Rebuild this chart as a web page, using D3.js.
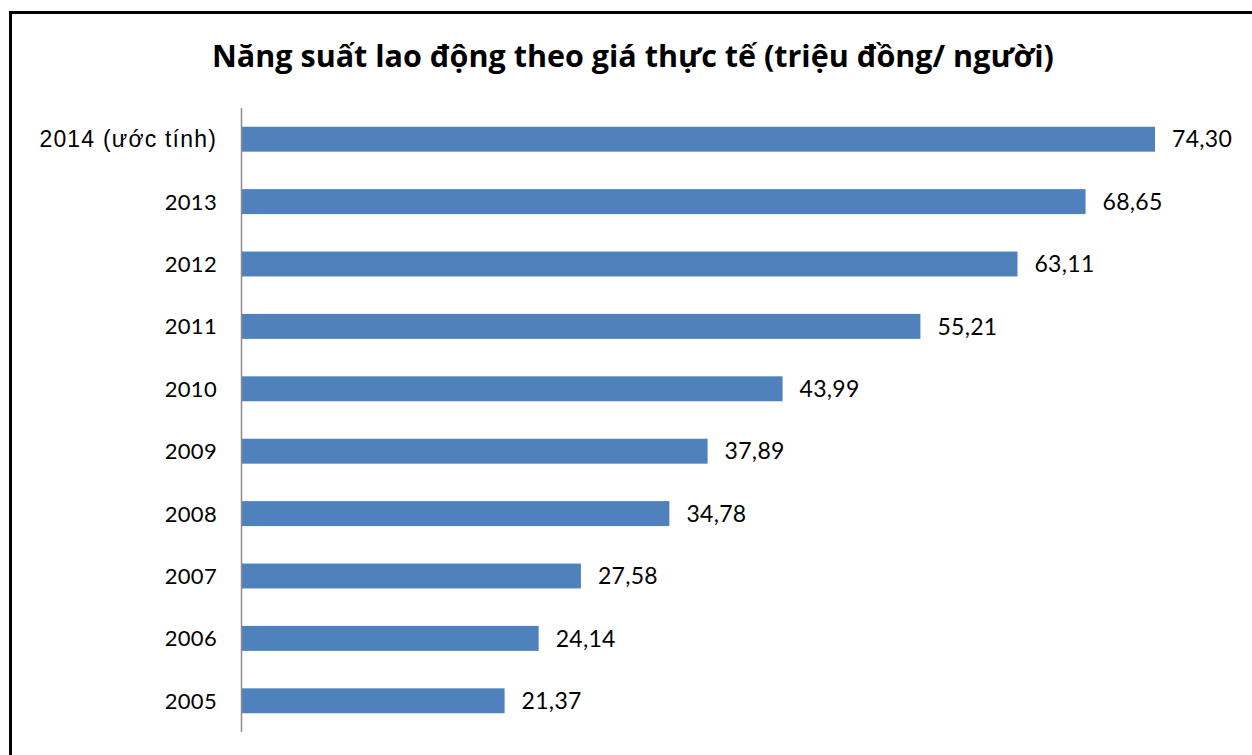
<!DOCTYPE html>
<html>
<head>
<meta charset="utf-8">
<script src="https://cdn.jsdelivr.net/npm/d3@7"></script>
<style>
  body { margin: 0; background: #fff; }
  svg { display: block; }
</style>
</head>
<body>
<div id="chart"></div>
<script>
var years = ["2014 (ước tính)", "2013", "2012", "2011", "2010", "2009", "2008", "2007", "2006", "2005"];
var values = [74.30, 68.65, 63.11, 55.21, 43.99, 37.89, 34.78, 27.58, 24.14, 21.37];
var title = "Năng suất lao động theo giá thực tế (triệu đồng/ người)";

var w = 1252, h = 755;

var svg = d3.select("#chart")
            .append("svg")
            .attr("width", w)
            .attr("height", h);

// frame (left + top only, rest is cut off)
svg.append("path")
    .attr("d", "M10.5,755 V12.5 H1252")
    .attr("fill", "none")
    .attr("stroke", "#000")
    .attr("stroke-width", 3);

var x = d3.scaleLinear()
    .domain([0, 74.30])
    .range([242, 1155]);

var y = d3.scaleBand()
    .domain(years)
    .range([108, 732])
    .paddingInner(0.6)
    .paddingOuter(0.3);

// title, fitted to the reference width
var t = svg.append("text")
    .attr("x", 633)
    .attr("y", 67)
    .attr("text-anchor", "middle")
    .attr("font-family", "'Open Sans', sans-serif")
    .attr("font-weight", "bold")
    .attr("font-size", 30)
    .attr("fill", "#000")
    .text(title);
var tw = t.node().getComputedTextLength();
t.attr("font-size", 30 * 842 / tw);

svg.selectAll("rect.bar")
    .data(values)
    .enter()
    .append("rect")
    .attr("class", "bar")
    .attr("x", x(0))
    .attr("y", function(d, i) { return y(years[i]); })
    .attr("width", function(d) { return x(d) - x(0); })
    .attr("height", y.bandwidth())
    .attr("fill", "#4F81BD");

// value axis line
svg.append("line")
    .attr("x1", x(0) - 0.5)
    .attr("x2", x(0) - 0.5)
    .attr("y1", 108)
    .attr("y2", 732)
    .attr("stroke", "#8c8c8c")
    .attr("stroke-width", 1.5);

svg.selectAll("text.val")
    .data(values)
    .enter()
    .append("text")
    .attr("class", "val")
    .attr("x", function(d) { return x(d) + 17; })
    .attr("y", function(d, i) { return y(years[i]) + y.bandwidth() / 2; })
    .attr("dy", "0.36em")
    .attr("font-family", "Lato, sans-serif")
    .attr("font-size", "23px")
    .attr("letter-spacing", "0.3px")
    .attr("fill", "#000")
    .text(function(d) { return d.toFixed(2).replace(".", ","); });

svg.selectAll("text.cat")
    .data(years)
    .enter()
    .append("text")
    .attr("class", "cat")
    .attr("x", 217)
    .attr("y", function(d) { return y(d) + y.bandwidth() / 2; })
    .attr("dy", "0.36em")
    .attr("text-anchor", "end")
    .attr("font-family", function(d, i) { return i == 0 ? "'Liberation Sans', Arial, sans-serif" : "Lato, sans-serif"; })
    .attr("font-size", function(d, i) { return i == 0 ? "23px" : "22px"; })
    .attr("letter-spacing", function(d, i) { return i == 0 ? "1.2px" : "0.3px"; })
    .attr("fill", "#000")
    .text(function(d) { return d; });
</script>
</body>
</html>
